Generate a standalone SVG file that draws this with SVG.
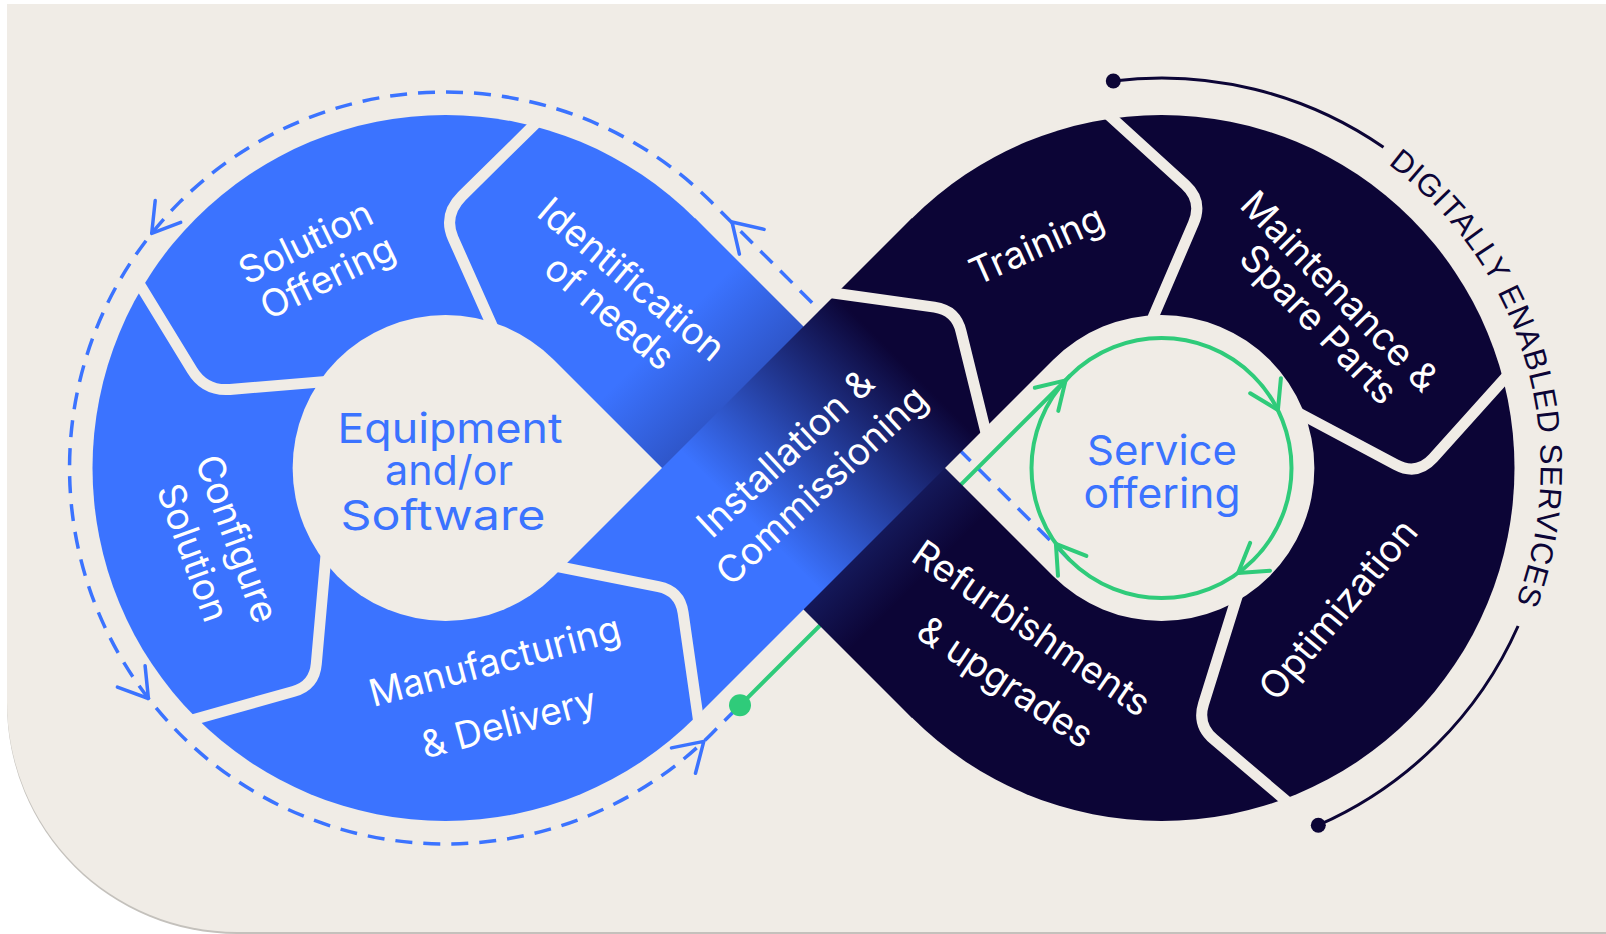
<svg xmlns="http://www.w3.org/2000/svg" width="1606" height="934" viewBox="0 0 1606 934">
  <defs>
    <style>
      .sep { fill: none; stroke: #F0ECE6; stroke-width: 11; stroke-linecap: butt; stroke-linejoin: round; }
      .label { font-family: Inter, "Liberation Sans", sans-serif; font-size: 37.5px; fill: #FFFFFF; text-anchor: middle; }
      .hub { font-family: Inter, "Liberation Sans", sans-serif; font-size: 41px; fill: #3B73FF; text-anchor: middle; }
      .flow { fill: none; stroke: #3B73FF; stroke-width: 3.5; stroke-dasharray: 17 11; }
      .flow-head { fill: none; stroke: #3B73FF; stroke-width: 3.5; stroke-linecap: round; stroke-linejoin: round; }
      .svc { fill: none; stroke: #2FCB7A; stroke-width: 4; stroke-linecap: round; stroke-linejoin: round; }
      .ring-caption { font-family: "Liberation Sans", Arial, sans-serif; font-size: 31px; fill: #0C0536; }
      .ring-arc { fill: none; stroke: #0C0536; stroke-width: 3; }
    </style>
    <!-- band running from upper-left (blue) to lower-right (navy) -->
    <linearGradient id="gradBandA" gradientUnits="userSpaceOnUse" x1="667.75" y1="332.25" x2="917.75" y2="582.25">
      <stop offset="0" stop-color="#3B73FF"/>
      <stop offset="1" stop-color="#0C0536"/>
    </linearGradient>
    <!-- band running from lower-left (blue) to upper-right (navy) -->
    <linearGradient id="gradBandB" gradientUnits="userSpaceOnUse" x1="750.75" y1="520.75" x2="905.75" y2="365.75">
      <stop offset="0" stop-color="#3B73FF"/>
      <stop offset="1" stop-color="#0C0536"/>
    </linearGradient>
    <!-- the two teardrop openings of the loop -->
    <mask id="loopHoles" maskUnits="userSpaceOnUse" x="0" y="0" width="1606" height="934">
      <rect width="1606" height="934" fill="#FFFFFF"/>
      <path d="M553.75 359.75 A153 153 0 1 0 553.75 576.25 L662 468 Z" fill="#000000"/>
      <path d="M1053.25 359.75 A153 153 0 1 1 1053.25 576.25 L945 468 Z" fill="#000000"/>
    </mask>
    <path id="captionPath" d="M1388 164.1 A379 379 0 0 1 1505.1 628.2"/>
  </defs>

  <!-- card -->
  <g id="background">
    <rect width="1606" height="934" fill="#FFFFFF"/>
    <path d="M7 6 H1606 V934 H237 A230 230 0 0 1 7 704 Z" fill="#C4C1BC"/>
    <path d="M7 4 H1606 V932 H237 A230 230 0 0 1 7 702 Z" fill="#F0ECE6"/>
  </g>

  <!-- flow lines (drawn beneath the loop) -->
  <g id="connectors">
    <path class="flow" d="M1069.6 559.9 L711.4 202.1 A376 376 0 1 0 711.4 733.9 L740 705.3"/>
    <path class="flow-head" d="M180.7 222.4 L151.7 233.4 L155.2 200.6"/>
    <path class="flow-head" d="M739.4 254.1 L732 222 L764.1 229.4"/>
    <path class="flow-head" d="M145.1 665.7 L148.4 698.5 L117.4 687.1"/>
    <path class="flow-head" d="M671.5 747.9 L703.8 741.4 L695.5 773.3"/>
    <path class="svc" d="M740 705.3 L1069.6 376.1"/>
    <circle class="svc" cx="1161.5" cy="468" r="130"/>
    <path class="svc" d="M1034.8 387.7 L1065.6 380.4 L1058.3 410.9"/>
    <path class="svc" d="M1280.9 378.2 L1277.9 410 L1250.2 393.3"/>
    <path class="svc" d="M1270 570.7 L1238.1 573 L1250.1 542.9"/>
    <path class="svc" d="M1058 575.8 L1055.9 543.8 L1086.4 555.9"/>
    <circle cx="740" cy="705.3" r="11" fill="#2FCB7A"/>
  </g>

  <!-- the figure-eight loop -->
  <g id="loop" mask="url(#loopHoles)">
    <circle cx="445.5" cy="468" r="353" fill="#3B73FF"/>
    <circle cx="1161.5" cy="468" r="353" fill="#0C0536"/>
    <path d="M695.25 218.25 L1053.25 576.25 L911.75 717.75 L553.75 359.75 Z" fill="url(#gradBandA)"/>
    <path d="M553.75 576.25 L695.25 717.75 L1053.25 359.75 L911.75 218.25 Z" fill="url(#gradBandB)"/>
    <path class="sep" d="M536 123 L462 196 Q443 215 453 238 L494 330"/>
    <path class="sep" d="M137 280 L192 370 Q205 391.5 230 389.4 L332 381"/>
    <path class="sep" d="M326 555 L316.3 663.7 Q314.5 685.6 293.3 691.5 L192 720"/>
    <path class="sep" d="M550 565 L658.4 586.7 Q680 591 683.1 612.8 L699.6 728"/>
    <path class="sep" d="M826 292 L934.4 307.1 Q956.2 310.2 961.1 331.7 L988 441"/>
    <path class="sep" d="M1104 110.7 L1185.3 184.8 Q1203 201 1193.5 223.1 L1150 324.5"/>
    <path class="sep" d="M1512 370.3 L1433.1 458.2 Q1417 476 1395.8 464.7 L1296 411.5"/>
    <path class="sep" d="M1240 587 L1203.5 704 Q1197 725 1213.8 739.3 L1291 805"/>
  </g>

  <!-- stages -->
  <g id="node-equipment">
    <text class="hub" x="450" y="443" textLength="225" lengthAdjust="spacingAndGlyphs">Equipment</text>
    <text class="hub" x="449" y="485" textLength="128" lengthAdjust="spacingAndGlyphs">and/or</text>
    <text class="hub" x="443" y="530" textLength="205" lengthAdjust="spacingAndGlyphs">Software</text>
  </g>
  <g id="node-service-offering">
    <text class="hub" x="1162" y="465" textLength="150" lengthAdjust="spacingAndGlyphs">Service</text>
    <text class="hub" x="1162" y="508" textLength="157" lengthAdjust="spacingAndGlyphs">offering</text>
  </g>
  <g id="node-solution-offering">
    <text class="label" transform="translate(306 243) rotate(-26)" y="12">Solution</text>
    <text class="label" transform="translate(328 278) rotate(-26)" y="12">Offering</text>
  </g>
  <g id="node-identification">
    <text class="label" transform="translate(631 280) rotate(40)" y="12">Identification</text>
    <text class="label" transform="translate(609 313) rotate(40)" y="12">of needs</text>
  </g>
  <g id="node-configure">
    <text class="label" transform="translate(236 539) rotate(70)" y="12">Configure</text>
    <text class="label" transform="translate(192 553) rotate(70)" y="12">Solution</text>
  </g>
  <g id="node-manufacturing">
    <text class="label" transform="translate(495 662) rotate(-15)" y="12">Manufacturing</text>
    <text class="label" transform="translate(509 724) rotate(-15)" y="12">&amp; Delivery</text>
  </g>
  <g id="node-installation">
    <text class="label" transform="translate(786 454) rotate(-43)" y="12">Installation &amp;</text>
    <text class="label" transform="translate(822 486) rotate(-43)" y="12">Commissioning</text>
  </g>
  <g id="node-training">
    <text class="label" transform="translate(1037 246) rotate(-24)" y="12">Training</text>
  </g>
  <g id="node-maintenance">
    <text class="label" transform="translate(1339 292) rotate(45.5)" y="12">Maintenance &amp;</text>
    <text class="label" transform="translate(1318 325) rotate(45.5)" y="12">Spare Parts</text>
  </g>
  <g id="node-optimization">
    <text class="label" transform="translate(1339 610) rotate(-50)" y="12">Optimization</text>
  </g>
  <g id="node-refurbishments">
    <text class="label" transform="translate(1031 629) rotate(34.5)" y="12">Refurbishments</text>
    <text class="label" transform="translate(1005 683) rotate(34)" y="12">&amp; upgrades</text>
  </g>

  <!-- bracket around the service loop -->
  <g id="digital-services">
    <path class="ring-arc" d="M1113.3 81 A390 390 0 0 1 1383.5 147.3"/>
    <path class="ring-arc" d="M1518.1 626 A390 390 0 0 1 1318.3 825.2"/>
    <circle cx="1113.3" cy="81" r="7.5" fill="#0C0536"/>
    <circle cx="1318.3" cy="825.2" r="7.5" fill="#0C0536"/>
    <text class="ring-caption"><textPath href="#captionPath" textLength="490" lengthAdjust="spacing">DIGITALLY ENABLED SERVICES</textPath></text>
  </g>
</svg>
